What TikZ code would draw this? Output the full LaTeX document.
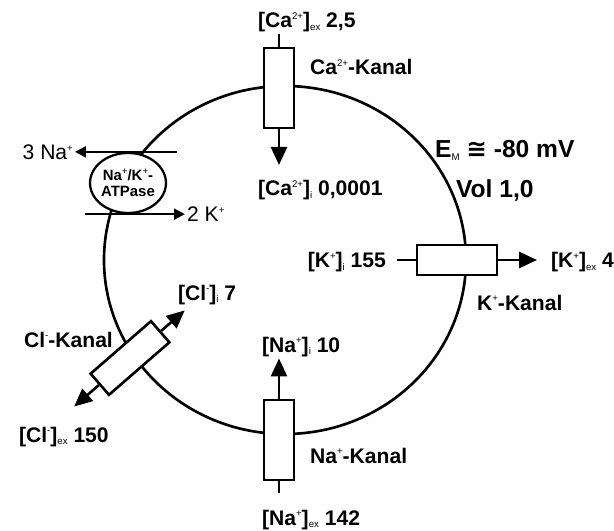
\documentclass[tikz,border=0pt]{standalone}
\usepackage{fontspec}
\setmainfont{Liberation Sans}
\newfontfamily\symfont{DejaVu Sans}
\usetikzlibrary{arrows.meta, positioning, calc, shapes.geometric}
\newcommand{\ionsup}[1]{\raisebox{0.38em}{\fontsize{5.5}{6}\selectfont\mdseries #1}}
\newcommand{\ionsub}[1]{\raisebox{-0.12em}{\fontsize{5.5}{6}\selectfont\mdseries #1}}

\begin{document}
\begin{tikzpicture}[
    >={Triangle[length=0.36cm, width=0.32cm]},
    membrane/.style={line width=1.5pt},
    channel/.style={draw, fill=white, line width=1.5pt, minimum width=0.6cm,
        minimum height=1.6cm, inner sep=0pt},
    pump/.style={draw, ellipse, fill=white, line width=1.3pt,
        minimum width=1.52cm, minimum height=1.2cm, inner sep=0pt,
        align=center, font=\bfseries\fontsize{8.5}{9.5}\selectfont},
    lbl/.style={font=\bfseries\fontsize{12}{14}\selectfont, inner sep=1pt},
    big/.style={font=\bfseries\fontsize{14}{16}\selectfont, inner sep=1pt},
    ion/.style={font=\fontsize{12}{14}\selectfont, inner sep=1pt},
    stem/.style={line width=1.5pt},
    flux/.style={->, line width=1.5pt},
    pumparr/.style={-{Triangle[length=0.22cm, width=0.22cm]}, line width=1.2pt},
]
\useasboundingbox (-5.70,-5.40) rectangle (6.58,5.20);

% --- Cell membrane ---
\draw[membrane] (0,0) ellipse [x radius=3.62cm, y radius=3.48cm];

% --- Channels ---
\node[channel] (ca) at (-0.12,3.44) {};
\node[channel] (na) at (-0.12,-3.6) {};
\node[channel, rotate=-90] (k) at (3.44,0) {};
\node[channel, rotate=-49, minimum width=0.56cm] (cl) at (-3.1,-1.96) {};

% --- Na/K pump ---
\node[pump] (atp) at (-3.14,1.54) {Na\ionsup{+}/K\ionsup{+}-\\ATPase};
\node[ion, anchor=east] (naout) at (-4.2,2.16) {3 Na\ionsup{+}};
\node[ion, anchor=west] (kpump) at (-2.0,0.92) {2 K\ionsup{+}};
\draw[pumparr] ([xshift=0.98cm]atp.north) -- (atp.north -| naout.east);
\draw[pumparr] ([xshift=-0.86cm]atp.south) -- (atp.south -| kpump.west);

% --- Labels ---
\node[lbl, anchor=base west] (caexlbl) at (-0.58,4.64)
    {[Ca\ionsup{2+}]\ionsub{ex} 2,5};
\node[lbl, anchor=base west] (calbl) at (0.46,3.70) {Ca\ionsup{2+}-Kanal};
\node[lbl, anchor=base west] (cainlbl) at (-0.58,1.28)
    {[Ca\ionsup{2+}]\ionsub{i} 0,0001};
\node[big, anchor=base west] (emlbl) at (2.96,2.04)
    {E\ionsub{M} {\symfont ≅} -80 mV};
\node[big, anchor=base west] (vollbl) at (3.38,1.24) {Vol 1,0};
\node[lbl, anchor=base east] (kinlbl) at (2.06,-0.16)
    {[K\ionsup{+}]\ionsub{i} 155};
\node[lbl, anchor=base west] (kexlbl) at (5.28,-0.16)
    {[K\ionsup{+}]\ionsub{ex} 4};
\node[lbl, anchor=base west] (klbl) at (3.8,-1.0) {K\ionsup{+}-Kanal};
\node[lbl, anchor=base west] (nainlbl) at (-0.5,-1.84)
    {[Na\ionsup{+}]\ionsub{i} 10};
\node[lbl, anchor=base west] (nalbl) at (0.46,-4.06) {Na\ionsup{+}-Kanal};
\node[lbl, anchor=base west] (naexlbl) at (-0.5,-5.3)
    {[Na\ionsup{+}]\ionsub{ex} 142};
\node[lbl, anchor=base west] (clinlbl) at (-2.18,-0.8)
    {[Cl\ionsup{-}]\ionsub{i} 7};
\node[lbl, anchor=base west] (cllbl) at (-5.26,-1.74) {Cl\ionsup{-}-Kanal};
\node[lbl, anchor=base west] (clexlbl) at (-5.36,-3.64)
    {[Cl\ionsup{-}]\ionsub{ex} 150};

% --- Fluxes ---
\coordinate (catip) at (-0.12,1.9);
\coordinate (kstem) at (2.24,0);
\coordinate (kex) at (5.04,0);
\coordinate (naex) at (-0.12,-4.66);
\coordinate (clin) at ($(cl.center)!1.45cm!(cl.north)$);
\coordinate (clex) at ($(cl.center)!1.48cm!(cl.south)$);

\draw[stem] (ca.north) -- (ca.north |- caexlbl.south);
\draw[flux] (ca.south) -- (catip);
\draw[stem] (kstem) -- (k.south);
\draw[flux] (k.north) -- (kex);
\draw[flux] (na.north) -- (na.north |- nainlbl.south);
\draw[stem] (na.south) -- (naex);
\draw[flux] (cl.north) -- (clin);
\draw[flux] (cl.south) -- (clex);

\end{tikzpicture}
\end{document}
